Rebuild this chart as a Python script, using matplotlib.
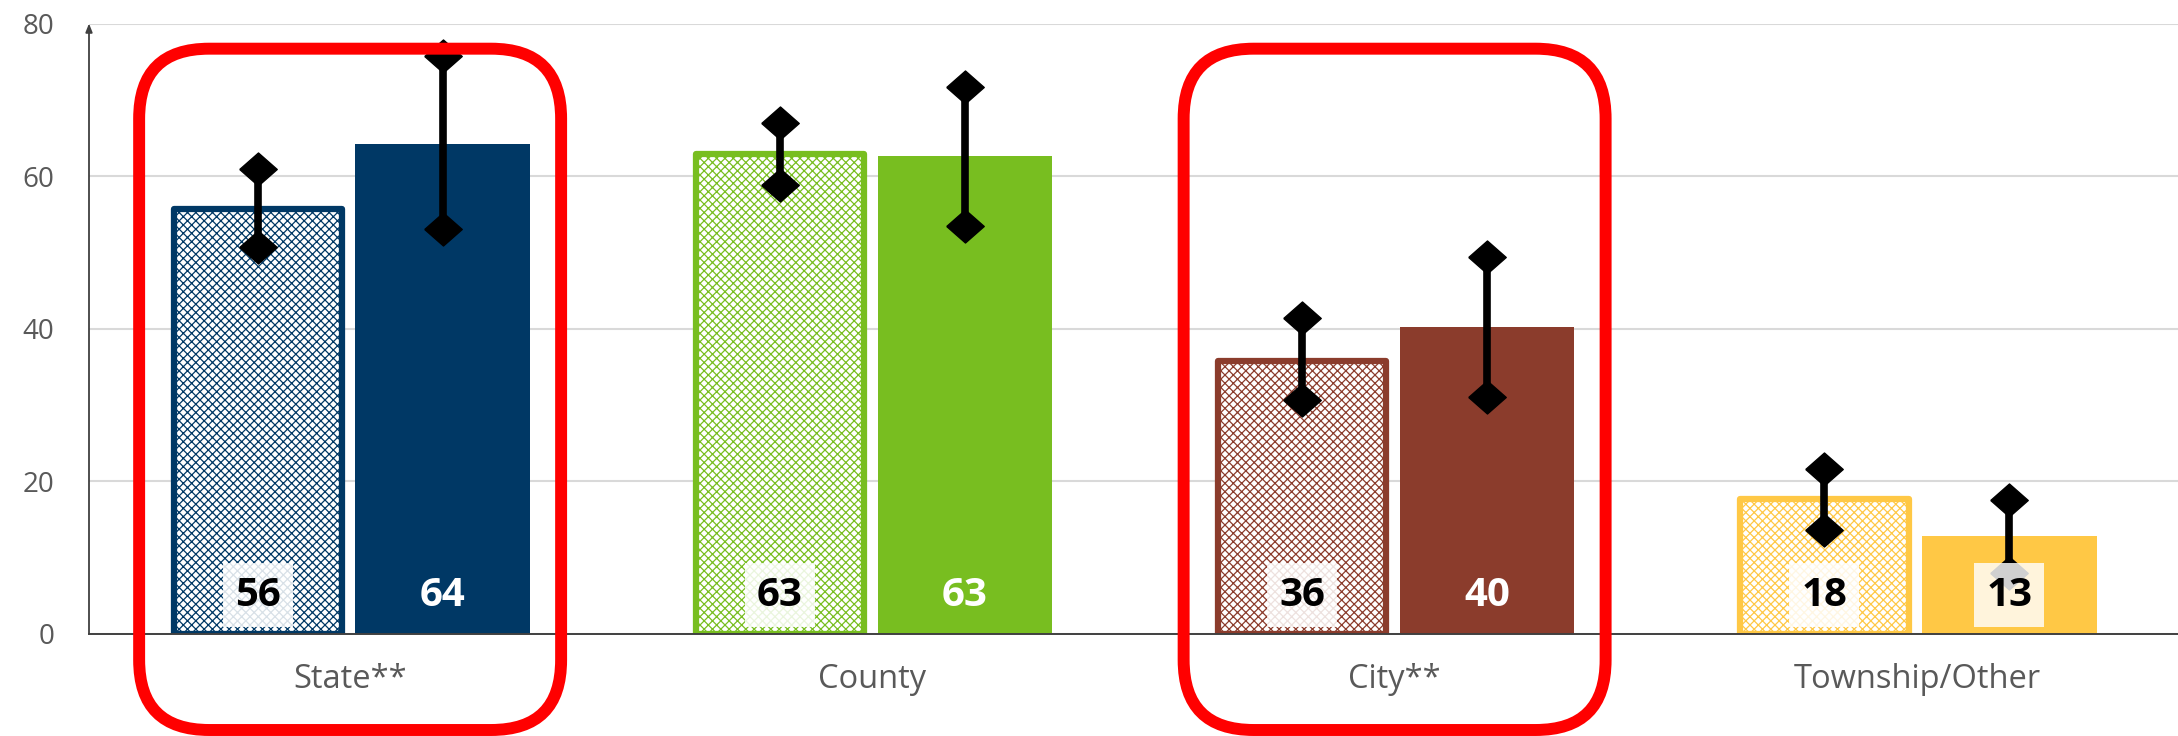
import matplotlib
matplotlib.use("Agg")
import matplotlib.pyplot as plt
from matplotlib.patches import FancyBboxPatch
import numpy as np

categories = ["State**", "County", "City**", "Township/Other"]
colors = ["#003865", "#78BE20", "#8B3C2C", "#FFC845"]

# patterned bars (left of each pair) and solid bars (right)
hatched_vals = [55.7, 62.9, 35.8, 17.7]
solid_vals = [64.2, 62.7, 40.2, 12.9]
hatched_labels = ["56", "63", "36", "18"]
solid_labels = ["64", "63", "40", "13"]

# confidence intervals (low / high ends of the error bars)
hatched_lo = [50.7, 58.8, 30.7, 13.6]
hatched_hi = [60.9, 67.0, 41.4, 21.6]
solid_lo = [53.1, 53.5, 31.1, 8.0]
solid_hi = [75.7, 71.7, 49.4, 17.6]

# categories that get a red outline
highlighted = ["State**", "City**"]

W, H = 2178, 736
plt.rcParams["font.family"] = ["Open Sans", "DejaVu Sans"]
plt.rcParams["hatch.linewidth"] = 0.9

fig = plt.figure(figsize=(W / 100, H / 100), dpi=100)
ax = fig.add_axes([89 / W, 1 - 634 / H, 1 - 89 / W, (634 - 23.5) / H])

x = np.arange(len(categories))
bw = 0.322
off = 0.177

for i in range(len(categories)):
    ax.bar(x[i] - off, hatched_vals[i], width=bw, facecolor="white",
           edgecolor=colors[i], linewidth=4.5, hatch="xxxx", joinstyle="round",
           zorder=2)
    ax.bar(x[i] + off, solid_vals[i], width=bw + 0.012, color=colors[i],
           linewidth=0, zorder=2)

# error bars: thick line with diamond ends
diamond = [(-1, 0), (0, 0.88), (1, 0), (0, -0.88), (-1, 0)]
for xs, lo, hi in [(x - off, hatched_lo, hatched_hi), (x + off, solid_lo, solid_hi)]:
    ax.vlines(xs, lo, hi, color="black", linewidth=5.5, zorder=4)
    ax.plot(xs, lo, linestyle="none", marker=diamond, markersize=27,
            color="black", zorder=4)
    ax.plot(xs, hi, linestyle="none", marker=diamond, markersize=27,
            color="black", zorder=4)

# value labels near the bottom of each bar
box = dict(boxstyle="square,pad=0.3", fc="white", ec="none", alpha=0.85)
for i in range(len(categories)):
    ax.text(x[i] - off, 5.1, hatched_labels[i], ha="center", va="center",
            fontsize=29, fontweight="bold", color="black", zorder=5, bbox=box)
    if i == len(categories) - 1:
        ax.text(x[i] + off, 5.1, solid_labels[i], ha="center", va="center",
                fontsize=29, fontweight="bold", color="black", zorder=5,
                bbox=dict(box, alpha=0.82))
    else:
        ax.text(x[i] + off, 5.1, solid_labels[i], ha="center", va="center",
                fontsize=29, fontweight="bold", color="white", zorder=5)

ax.set_xlim(-0.5, 3.5)
ax.set_ylim(0, 80)
ax.set_yticks([0, 20, 40, 60, 80])
ax.set_xticks(x)
ax.set_xticklabels(categories, fontsize=23.5, color="#595959")
ax.tick_params(axis="y", length=0, pad=25, labelsize=20, labelcolor="#595959")
ax.tick_params(axis="x", length=0, pad=21)
ax.yaxis.grid(True, color="#D9D9D9", linewidth=1.5, zorder=0)
ax.set_axisbelow(True)
for s in ["top", "right", "left"]:
    ax.spines[s].set_visible(False)
ax.spines["bottom"].set_color("#404040")
ax.spines["bottom"].set_linewidth(1.4)
ax.annotate("", xy=(0, 1.0), xytext=(0, 0), xycoords="axes fraction",
            arrowprops=dict(arrowstyle="-|>,head_length=0.5,head_width=0.2",
                            lw=1.3, color="#404040", shrinkA=0, shrinkB=0))

# red rounded outlines, drawn in pixel space on top of everything
over = fig.add_axes([0, 0, 1, 1], zorder=10)
over.set_xlim(0, W)
over.set_ylim(H, 0)
over.axis("off")
for cat in highlighted:
    i = categories.index(cat)
    left = ax.transData.transform((i - 0.404, 0))[0]
    right = ax.transData.transform((i + 0.404, 0))[0]
    top = H - ax.transData.transform((0, 76.7))[1]
    bottom = H - 6
    over.add_patch(FancyBboxPatch((left, top), right - left, bottom - top,
                                  boxstyle="round,pad=0,rounding_size=70",
                                  fc="none", ec="#FF0000", lw=8.6))

fig.savefig("out.png", dpi=100)
